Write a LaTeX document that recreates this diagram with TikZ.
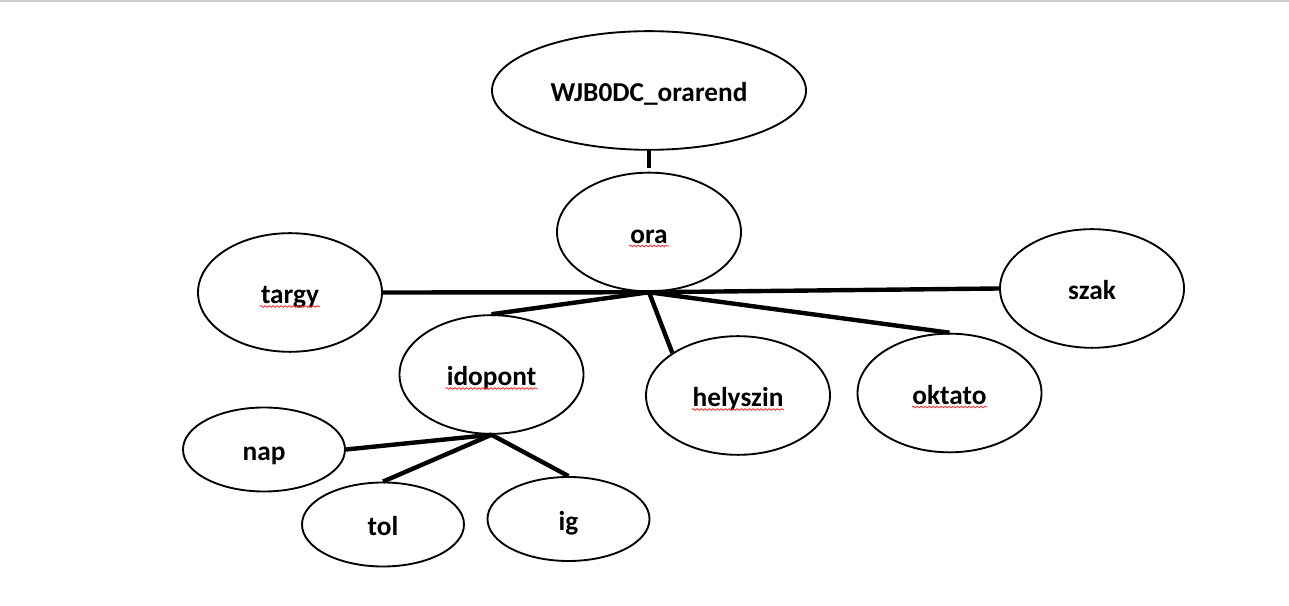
\documentclass[tikz,border=0pt]{standalone}
\usepackage{fontspec}
\setmainfont{Carlito}
\usetikzlibrary{shapes.geometric,calc,decorations.pathmorphing}
\tikzset{
  attr/.style={ellipse,draw,line width=1.4pt,inner sep=0pt,
    minimum width=138pt,minimum height=89pt,
    font=\fontsize{20.5}{24}\selectfont\bfseries,
    text height=19pt,text depth=1.8pt},
  leaf/.style={attr,minimum width=121.5pt,minimum height=63pt},
  link/.style={line width=3.3pt},
  spell/.style={draw=red!85,line width=0.6pt,decorate,
    decoration={snake,segment length=3pt,amplitude=0.6pt}}
}
\newcommand*{\squiggle}[2]
  {\draw[spell] ($(#1.center)+(-#2/2,-14)$) -- ++(#2,0)}

\begin{document}
\begin{tikzpicture}[x=0.75pt,y=0.75pt]
\useasboundingbox (0,0) rectangle (1289,606);
\draw[gray!40,line width=1.5pt] (0,605) -- (1289,605);
\node[attr,minimum width=235.5pt] (orarend) at (649,515.5) {WJB0DC\_orarend};
\node[attr] (ora) at (649,374) {ora};
\node[attr] (targy) at (290,313.5) {targy};
\node[attr] (szak) at (1092,317.5) {szak};
\node[attr] (idopont) at (491.5,231.5) {idopont};
\node[attr] (helyszin) at (738,210.5) {helyszin};
\node[attr] (oktato) at (949.5,213) {oktato};
\node[leaf] (nap) at (264,156.5) {nap};
\node[leaf] (tol) at (383,81.5) {tol};
\node[leaf] (ig) at (568.5,87) {ig};
\coordinate (stub) at ($(orarend.south)+(0,-17)$);
\coordinate (hub) at (ora.south);
\draw[link] (orarend.south) -- (stub);
\draw[link] (targy.east) -- (hub);
\draw[link] (hub) -- (szak.west);
\draw[link] (hub) -- (idopont.north);
\draw[link] (hub) -- (helyszin.north west);
\draw[link] (hub) -- (oktato.north);
\draw[link] (idopont.south) -- (nap.east);
\draw[link] (idopont.south) -- (tol.north);
\draw[link] (idopont.south) -- (ig.north);
\squiggle{ora}{40};
\squiggle{targy}{60};
\squiggle{idopont}{92};
\squiggle{helyszin}{92};
\squiggle{oktato}{75};
\end{tikzpicture}
\end{document}
